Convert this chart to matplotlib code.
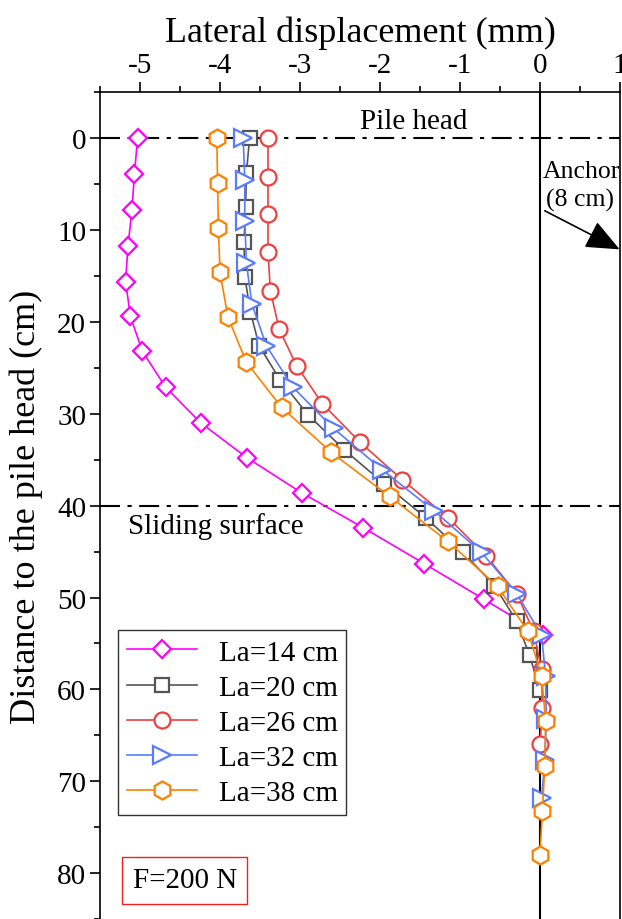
import matplotlib
matplotlib.use('Agg')
import matplotlib.pyplot as plt
from matplotlib.ticker import MultipleLocator

plt.rcParams['font.family'] = ['Liberation Serif', 'DejaVu Serif']
plt.rcParams['axes.unicode_minus'] = False

# depth below pile head (cm) and lateral displacement (mm) for each anchor position
depth_14 = [0, 3.9, 7.8, 11.7, 15.6, 19.4, 23.2, 27.1, 31.0, 34.8, 38.6, 42.4, 46.3, 50.2, 54.1]
disp_14 = [-5.03, -5.07, -5.10, -5.15, -5.18, -5.12, -4.97, -4.68, -4.24, -3.66, -2.98, -2.21, -1.45, -0.70, 0.04]

depth_20 = [0, 3.8, 7.5, 11.3, 15.1, 18.9, 22.6, 26.3, 30.1, 33.9, 37.6, 41.3, 45.1, 48.7, 52.6, 56.3, 60.1]
disp_20 = [-3.63, -3.67, -3.68, -3.70, -3.69, -3.62, -3.51, -3.25, -2.90, -2.45, -1.95, -1.43, -0.96, -0.57, -0.29, -0.13, 0.0]

depth_26 = [0, 4.2, 8.3, 12.4, 16.6, 20.8, 24.8, 28.9, 33.1, 37.2, 41.3, 45.5, 49.6, 53.7, 57.8, 62.0, 66.0]
disp_26 = [-3.40, -3.40, -3.40, -3.40, -3.37, -3.26, -3.04, -2.72, -2.25, -1.72, -1.15, -0.67, -0.29, -0.08, 0.02, 0.03, 0.0]

depth_32 = [0, 4.5, 9.0, 13.6, 18.1, 22.6, 27.1, 31.6, 36.1, 40.6, 45.1, 49.6, 54.1, 58.6, 63.2, 67.7, 71.8]
disp_32 = [-3.71, -3.69, -3.69, -3.67, -3.60, -3.42, -3.09, -2.58, -1.97, -1.32, -0.73, -0.29, 0.02, 0.07, 0.08, 0.06, 0.02]

depth_38 = [0, 4.9, 9.8, 14.6, 19.5, 24.4, 29.3, 34.2, 39.0, 43.9, 48.8, 53.7, 58.5, 63.4, 68.3, 73.2, 78.0]
disp_38 = [-4.04, -4.03, -4.02, -4.00, -3.90, -3.67, -3.23, -2.61, -1.88, -1.15, -0.53, -0.15, 0.02, 0.07, 0.06, 0.03, 0.0]

labels = ['La=14 cm', 'La=20 cm', 'La=26 cm', 'La=32 cm', 'La=38 cm']

fig = plt.figure(figsize=(6.22, 9.2), dpi=100)
ax = fig.add_axes([100 / 622, 0.0, 520 / 622, 0.8986])

ax.plot(disp_14, depth_14, color='#FF00FF', marker='D', ms=9.5, mfc='white', mew=1.6, lw=1.2, label=labels[0])
ax.plot(disp_20, depth_20, color='#555555', marker='s', ms=10.5, mfc='white', mew=1.6, lw=1.2, label=labels[1])
ax.plot(disp_26, depth_26, color='#EE4040', marker='o', ms=11.5, mfc='white', mew=1.6, lw=1.2, label=labels[2])
ax.plot(disp_32, depth_32, color='#5A7BFF', marker='>', ms=12.5, mfc='white', mew=1.6, lw=1.2, label=labels[3])
ax.plot(disp_38, depth_38, color='#FF8000', marker='h', ms=13, mfc='white', mew=1.6, lw=1.2, label=labels[4])

# reference lines
ax.axvline(0, color='black', lw=1.5, zorder=1)
for yy in [0, 40]:
    ln = ax.axhline(yy, color='black', lw=1.5, zorder=1)
    ln.set_dashes([9.6, 3.6, 2, 3.6])

ax.set_xlim(-5.5, 1.0)
ax.set_ylim(85, -5)
ax.xaxis.tick_top()
ax.xaxis.set_label_position('top')
ax.xaxis.set_major_locator(MultipleLocator(1))
ax.xaxis.set_minor_locator(MultipleLocator(0.5))
ax.yaxis.set_major_locator(MultipleLocator(10))
ax.yaxis.set_minor_locator(MultipleLocator(5))
ax.tick_params(which='major', direction='out', length=7, width=1.2, labelsize=21, pad=3)
ax.tick_params(which='minor', direction='out', length=4, width=1.2)
ax.spines['bottom'].set_visible(False)
for s in ['top', 'left', 'right']:
    ax.spines[s].set_linewidth(1.2)

ax.set_xlabel('Lateral displacement (mm)', fontsize=26, labelpad=8)
ax.set_ylabel('Distance to the pile head (cm)', fontsize=26, labelpad=10)

ax.text(-1.575, -1.9, 'Pile head', fontsize=21, ha='center', va='center')
ax.text(-5.15, 42.2, 'Sliding surface', fontsize=21, ha='left', va='center')
ax.text(0.52, 3.6, 'Anchor', fontsize=18.5, ha='center', va='center')
ax.text(0.50, 6.7, '(8 cm)', fontsize=18.5, ha='center', va='center')
ax.annotate('', xy=(0.995, 12.1), xytext=(0.06, 7.9),
            arrowprops=dict(arrowstyle='-|>,head_length=0.7,head_width=0.3', color='black',
                            lw=1.2, mutation_scale=30, shrinkA=0, shrinkB=0))

ax.text(-4.44, 80.8, 'F=200 N', fontsize=21, ha='center', va='center',
        bbox=dict(boxstyle='square,pad=0.35', fc='white', ec='#EE2020', lw=1.0))

leg = ax.legend(loc='upper left', bbox_to_anchor=(0.0346, 0.349), borderaxespad=0,
                fontsize=21, handlelength=2.4, handletextpad=0.75, labelspacing=0.3,
                borderpad=0.3, fancybox=False, framealpha=1, edgecolor='#333333')
leg.get_frame().set_linewidth(1.0)

fig.savefig('out.png', dpi=100)
